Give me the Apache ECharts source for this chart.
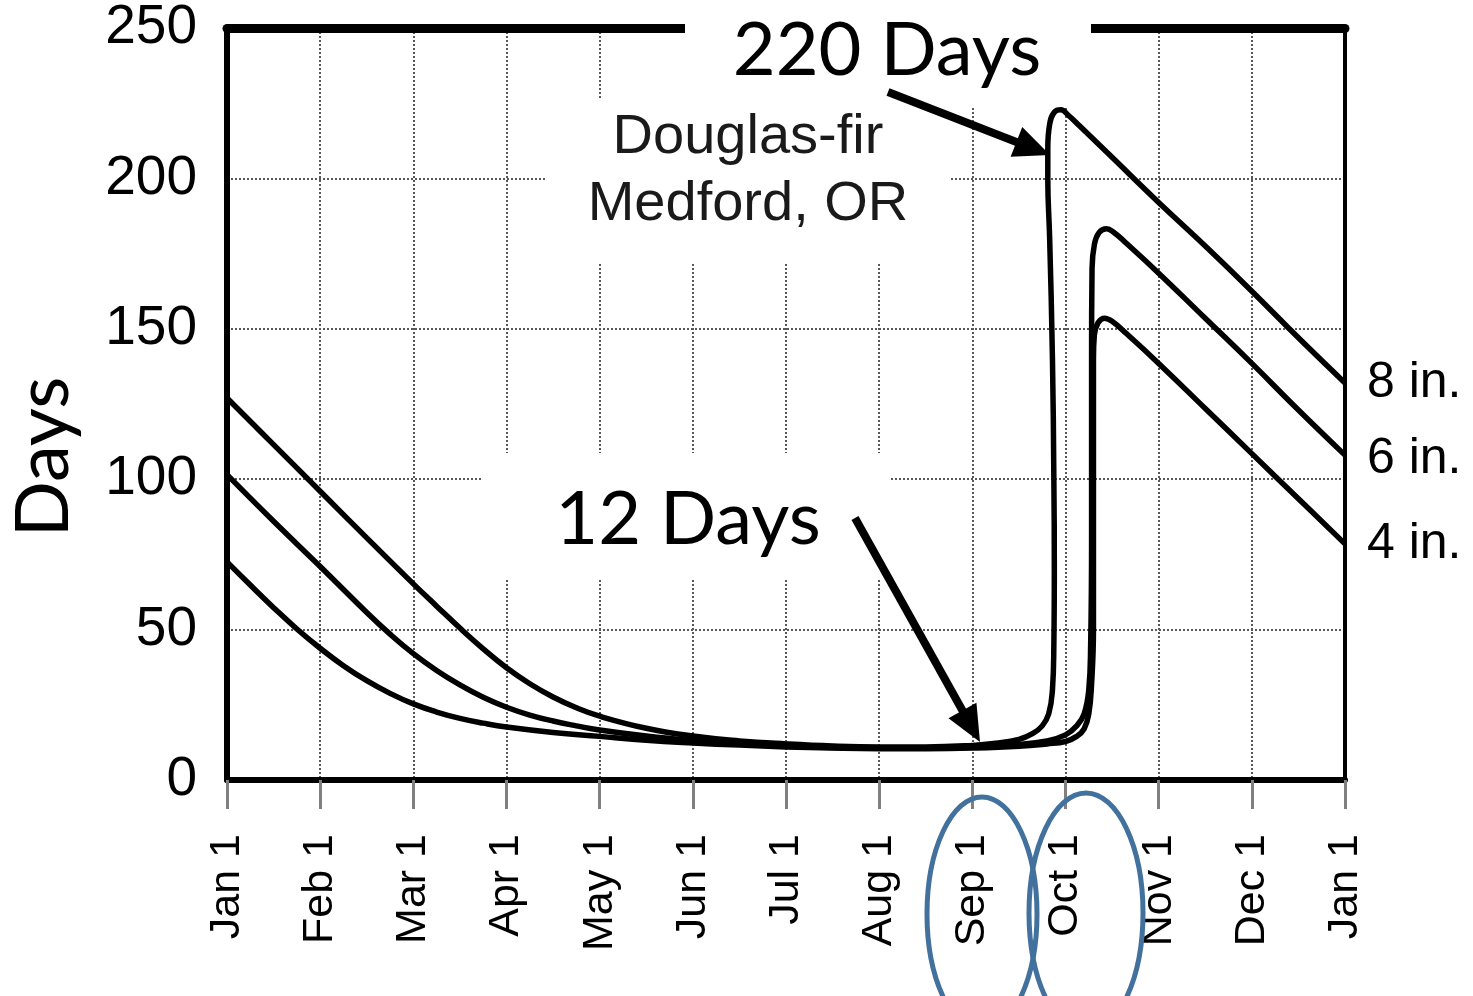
<!DOCTYPE html>
<html>
<head>
<meta charset="utf-8">
<script src="https://cdn.jsdelivr.net/npm/echarts@6/dist/echarts.min.js"></script>
<style>
html,body{margin:0;padding:0;background:#fff;}
#chart{width:1473px;height:996px;}
</style>
</head>
<body>
<div id="chart"></div>
<script>
// ---- data (x in months since Jan 1, y in days) ----
const monthLabels = ['Jan 1','Feb 1','Mar 1','Apr 1','May 1','Jun 1','Jul 1','Aug 1','Sep 1','Oct 1','Nov 1','Dec 1','Jan 1'];
const seriesNames = ['8 in.', '6 in.', '4 in.'];

const data8in = [[0,127],[0.5,111.5],[1,96],[1.5,80.5],[2,65.2],[2.25,57.8],[2.5,50.5],[2.75,43.6],[3,37.3],[3.25,32],[3.5,27.6],[3.75,24],[4,21.2],[4.5,17.2],[5,14.6],[5.5,13],[6,12],[6.5,11.3],[7,11],[7.5,11],[8,11.5],[8.25,12.2],[8.5,13.5],[8.65,15.5],[8.75,18],[8.82,22],[8.86,30],[8.875,45],[8.88,70],[8.875,100],[8.86,140],[8.83,180],[8.81,200],[8.81,210],[8.83,218],[8.88,222],[8.95,222.8],[9.03,221],[9.15,217.5],[9.5,207],[10,192],[10.5,177.5],[11,162.5],[11.5,147],[12,132]];

const data6in = [[0,101.5],[0.5,86],[1,71],[1.5,55.7],[1.75,48.5],[2,42],[2.25,36.4],[2.5,31.6],[2.75,27.5],[3,24.2],[3.25,21.6],[3.5,19.6],[3.75,18],[4,16.6],[4.5,14.6],[5,13.1],[5.5,12],[6,11.3],[6.5,10.8],[7,10.6],[7.5,10.6],[8,10.9],[8.5,11.8],[8.8,13],[9,15],[9.12,18],[9.2,22],[9.25,30],[9.27,45],[9.28,80],[9.28,140],[9.285,170],[9.31,178],[9.36,182],[9.44,183.3],[9.52,182],[9.65,178.5],[10,168.5],[10.5,153.5],[11,138.5],[11.5,123],[12,108]];

const data4in = [[0,72.5],[0.25,64.8],[0.5,57.3],[0.75,50.2],[1,43.8],[1.25,38],[1.5,33],[1.75,28.8],[2,25.3],[2.25,22.6],[2.5,20.5],[2.75,18.9],[3,17.6],[3.5,15.8],[4,14.5],[4.5,13.2],[5,12.3],[5.5,11.6],[6,11],[6.5,10.6],[7,10.4],[7.5,10.4],[8,10.6],[8.5,11.2],[8.8,12],[9,12.8],[9.12,14.5],[9.2,17],[9.25,22],[9.28,32],[9.3,50],[9.3,100],[9.3,140],[9.31,148],[9.35,152],[9.42,153.5],[9.5,152.5],[9.65,148.5],[10,138.5],[10.5,123.5],[11,108.5],[11.5,93.5],[12,78.5]];

const annotations = { peak: '220 Days', low: '12 Days', title1: 'Douglas-fir', title2: 'Medford, OR', yName: 'Days' };

// ---- chart ----
const chart = echarts.init(document.getElementById('chart'));
const arial = '"Liberation Sans", Arial, sans-serif';
const calibri = 'Lato, "Open Sans", sans-serif';
const gridLine = { show: true, lineStyle: { color: '#585858', width: 2, type: [2, 2] } };

function arrow(x1, y1, x2, y2, len, w) {
  const a = Math.atan2(y2 - y1, x2 - x1);
  const bx = x2 - len * Math.cos(a), by = y2 - len * Math.sin(a);
  const px = -Math.sin(a) * w / 2, py = Math.cos(a) * w / 2;
  return [
    { type: 'line', z: 10, shape: { x1: x1, y1: y1, x2: bx + 2 * Math.cos(a), y2: by + 2 * Math.sin(a) }, style: { stroke: '#000', lineWidth: 8 } },
    { type: 'polygon', z: 10, shape: { points: [[x2, y2], [bx + px, by + py], [bx - px, by - py]] }, style: { fill: '#000' } }
  ];
}

function whiteBox(x, y, w, h) {
  return { type: 'rect', z: 1, shape: { x: x, y: y, width: w, height: h }, style: { fill: '#fff' } };
}

function txt(t, x, y, size, family, color, rot) {
  return { type: 'text', z: 9, x: x, y: y, rotation: rot || 0,
    style: { text: t, x: 0, y: 0, fontSize: size, fontFamily: family, fill: color,
      align: 'center', verticalAlign: 'middle', textAlign: 'center', textVerticalAlign: 'middle' } };
}

const lineSeries = [data8in, data6in, data4in].map((d, i) => ({
  name: seriesNames[i],
  type: 'line',
  data: d,
  showSymbol: false,
  smooth: 0.45,
  z: 3,
  lineStyle: { color: '#000', width: 5.5 },
  endLabel: { show: true, formatter: '{a}', color: '#000', fontSize: 50, fontFamily: arial, distance: 22, offset: [0, i === 1 ? 4 : 0] }
}));

chart.setOption({
  animation: false,
  backgroundColor: '#fff',
  grid: { left: 227, right: 128, top: 28, bottom: 216 },
  xAxis: [
    {
      type: 'value', min: 0, max: 12, interval: 1, position: 'bottom',
      axisLine: { show: true, onZero: false, lineStyle: { color: '#000', width: 6 } },
      axisTick: { show: true, length: 29, lineStyle: { color: '#808080', width: 3 } },
      axisLabel: { rotate: 90, margin: 54, fontSize: 43, fontFamily: arial, color: '#000',
        formatter: v => monthLabels[v] },
      splitLine: gridLine
    },
    {
      type: 'value', min: 0, max: 12, position: 'top',
      axisLine: { show: true, onZero: false, lineStyle: { color: '#000', width: 9 } },
      axisTick: { show: false }, axisLabel: { show: false }, splitLine: { show: false }
    }
  ],
  yAxis: [
    {
      type: 'value', min: 0, max: 250, interval: 50, position: 'left',
      axisLine: { show: true, onZero: false, lineStyle: { color: '#000', width: 6 } },
      axisTick: { show: false },
      axisLabel: { margin: 30, fontSize: 55, fontFamily: arial, color: '#000' },
      splitLine: gridLine
    },
    {
      type: 'value', min: 0, max: 250, position: 'right',
      axisLine: { show: true, onZero: false, lineStyle: { color: '#000', width: 4 } },
      axisTick: { show: false }, axisLabel: { show: false }, splitLine: { show: false }
    }
  ],
  series: lineSeries,
  graphic: [
    whiteBox(685, 0, 406, 108),
    whiteBox(545, 98, 405, 164),
    whiteBox(482, 453, 408, 126),
    txt(annotations.peak, 887, 51, 74, calibri, '#000'),
    txt(annotations.low, 688, 520, 74, calibri, '#000'),
    txt(annotations.title1, 748, 138, 56, arial, '#1a1a1a'),
    txt(annotations.title2, 748, 205, 56, arial, '#1a1a1a'),
    txt(annotations.yName, 44, 457, 74, calibri, '#000', Math.PI / 2),
    ...arrow(888, 92, 1050, 155, 36, 32),
    ...arrow(855, 518, 980, 742, 36, 32),
    { type: 'ellipse', z: 10, shape: { cx: 982, cy: 914, rx: 55, ry: 117 }, style: { fill: 'none', stroke: '#41719c', lineWidth: 5 } },
    { type: 'ellipse', z: 10, shape: { cx: 1086, cy: 913, rx: 57, ry: 120 }, style: { fill: 'none', stroke: '#41719c', lineWidth: 5 } }
  ]
});
</script>
</body>
</html>
